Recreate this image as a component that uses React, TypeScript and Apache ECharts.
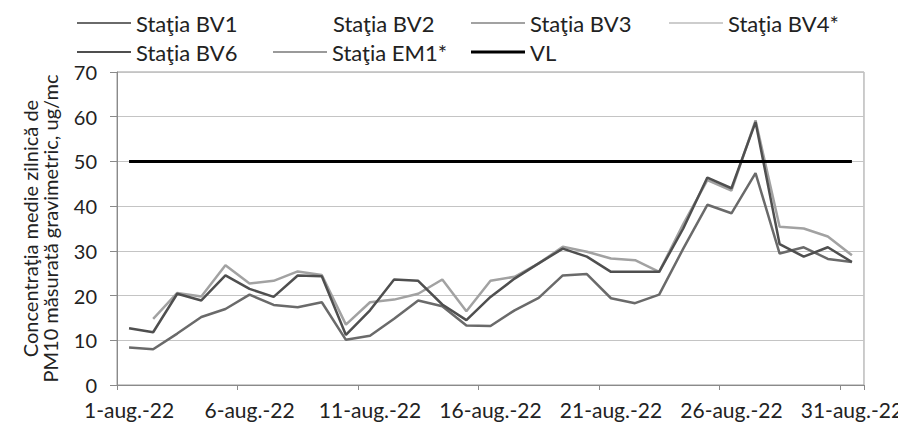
import React, { useEffect, useRef } from "react";
import * as echarts from "echarts";

const categories = [
  "1-aug.-22", "2-aug.-22", "3-aug.-22", "4-aug.-22", "5-aug.-22", "6-aug.-22", "7-aug.-22", "8-aug.-22",
  "9-aug.-22", "10-aug.-22", "11-aug.-22", "12-aug.-22", "13-aug.-22", "14-aug.-22", "15-aug.-22",
  "16-aug.-22", "17-aug.-22", "18-aug.-22", "19-aug.-22", "20-aug.-22", "21-aug.-22", "22-aug.-22",
  "23-aug.-22", "24-aug.-22", "25-aug.-22", "26-aug.-22", "27-aug.-22", "28-aug.-22", "29-aug.-22",
  "30-aug.-22", "31-aug.-22",
];

const bv1 = [8.4, 8.0, 11.5, 15.2, 17.0, 20.2, 17.9, 17.4, 18.5, 10.1, 11.0, 14.8, 18.9, 17.6, 13.3, 13.2,
  16.7, 19.5, 24.5, 24.8, 19.4, 18.3, 20.2, 30.5, 40.3, 38.4, 47.4, 29.4, 30.8, 28.2, 27.5];
const bv2: (number | null)[] = [];
const bv3 = [null, 14.8, 20.6, 19.8, 26.8, 22.7, 23.3, 25.4, 24.6, 13.5, 18.5, 19.1, 20.4, 23.6, 16.5, 23.3,
  24.2, 27.2, 30.9, 29.8, 28.3, 27.9, 25.3, 36.0, 45.8, 43.5, 59.2, 35.4, 35.0, 33.2, 29.0];
const bv4: (number | null)[] = [];
const bv6 = [12.7, 11.8, 20.4, 18.9, 24.5, 21.5, 19.7, 24.5, 24.3, 11.2, 16.7, 23.6, 23.3, 18.0, 14.5, 19.7,
  23.8, 27.2, 30.5, 28.7, 25.3, 25.3, 25.3, 35.0, 46.4, 44.0, 58.8, 31.5, 28.7, 30.8, 27.5];
const em1: (number | null)[] = [];
const vl = [50, 50, 50, 50, 50, 50, 50, 50, 50, 50, 50, 50, 50, 50, 50, 50, 50, 50, 50, 50, 50, 50, 50, 50,
  50, 50, 50, 50, 50, 50, 50];

const FONT = "Lato, 'Open Sans', sans-serif";

export default function App() {
  const ref = useRef<HTMLDivElement>(null);
  useEffect(() => {
    if (!ref.current) return;
    const chart = echarts.init(ref.current, null, { renderer: "svg" });
    const legendBase = {
      orient: "horizontal",
      icon: "rect",
      itemWidth: 54,
      itemHeight: 2,
      itemGap: 5,
      padding: 0,
      textStyle: { fontFamily: FONT, fontSize: 22, color: "#222" },
      selectedMode: false,
    };
    const mk = (name: string, data: any[], color: string, width: number, z = 2) => ({
      name,
      type: "line",
      data,
      symbol: "none",
      color,
      lineStyle: { color, width },
      z,
    });
    chart.setOption({
      animation: false,
      backgroundColor: "#fff",
      legend: [
        { ...legendBase, data: ["Staţia BV1"], left: 77, top: 12 },
        { ...legendBase, data: ["Staţia BV2"], left: 274, top: 12 },
        { ...legendBase, data: ["Staţia BV3"], left: 471, top: 12 },
        { ...legendBase, data: ["Staţia BV4*"], left: 669, top: 12 },
        { ...legendBase, data: ["Staţia BV6"], left: 77, top: 41 },
        { ...legendBase, data: ["Staţia EM1*"], left: 273, top: 41 },
        { ...legendBase, data: ["VL"], left: 471, top: 41, itemHeight: 3 },
      ],
      grid: {
        left: 117,
        right: 36,
        top: 72,
        bottom: 45,
        show: true,
        borderColor: "#9a9a9a",
        borderWidth: 1,
      },
      xAxis: {
        type: "category",
        data: categories,
        boundaryGap: true,
        axisLine: { lineStyle: { color: "#8a8a8a", width: 1 } },
        axisTick: { show: true, interval: 4, length: 5, alignWithLabel: false, lineStyle: { color: "#8a8a8a" } },
        axisLabel: { interval: 4, margin: 14, lineHeight: 20, fontFamily: FONT, fontSize: 21, color: "#222" },
        splitLine: { show: false },
      },
      yAxis: {
        type: "value",
        min: 0,
        max: 70,
        interval: 10,
        name: "Concentraţia medie zilnică de\nPM10 măsurată gravimetric, ug/mc",
        nameLocation: "middle",
        nameGap: 57,
        nameTextStyle: { fontFamily: FONT, fontSize: 20, lineHeight: 20, color: "#222" },
        axisLine: { show: true, lineStyle: { color: "#8a8a8a", width: 1 } },
        axisTick: { show: true, length: 7, lineStyle: { color: "#8a8a8a" } },
        axisLabel: { margin: 20, lineHeight: 18, fontFamily: FONT, fontSize: 20, color: "#222" },
        splitLine: { show: true, lineStyle: { color: "#c4c4c4", width: 1 } },
      },
      series: [
        mk("Staţia BV1", bv1, "#6a6a6a", 2.5),
        mk("Staţia BV2", bv2, "#ffffff", 2.5),
        mk("Staţia BV3", bv3, "#a2a2a2", 2.5),
        mk("Staţia BV4*", bv4, "#cdcdcd", 2.5),
        mk("Staţia BV6", bv6, "#4f4f4f", 2.5),
        mk("Staţia EM1*", em1, "#9a9a9a", 2.5),
        mk("VL", vl, "#000000", 3, 3),
      ],
    });
    return () => chart.dispose();
  }, []);
  return <div ref={ref} style={{ width: 906, height: 430, margin: -8 }} />;
}
